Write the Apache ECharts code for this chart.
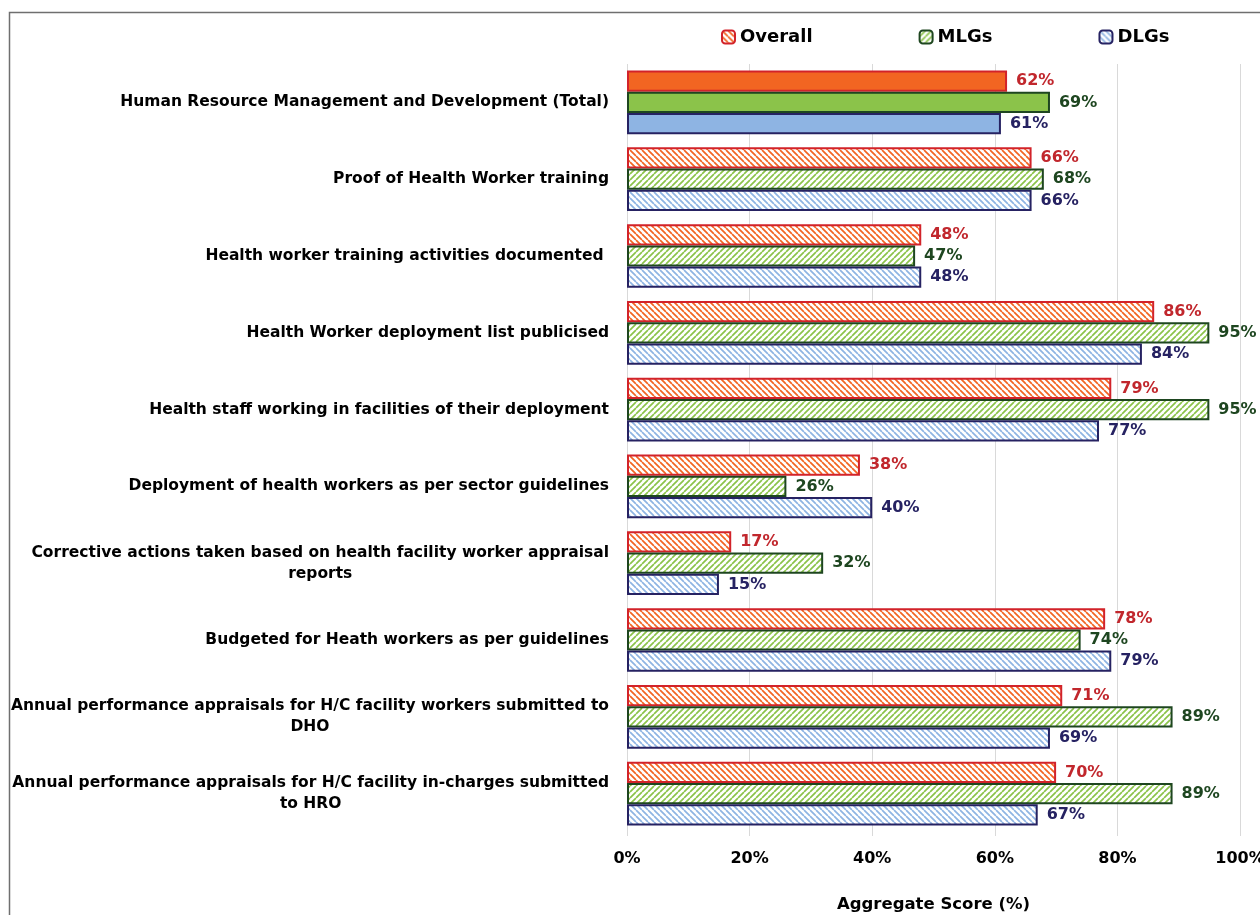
<!DOCTYPE html>
<html>
<head>
<meta charset="utf-8">
<script src="https://cdn.jsdelivr.net/npm/echarts@6/dist/echarts.min.js"></script>
<style>
html,body{margin:0;padding:0;background:#fff;overflow:hidden;}
#main{width:1260px;height:915px;}
</style>
</head>
<body>
<div id="main"></div>
<script>
const categories = [
  "Human Resource Management and Development (Total)",
  "Proof of Health Worker training",
  "Health worker training activities documented ",
  "Health Worker deployment list publicised",
  "Health staff working in facilities of their deployment",
  "Deployment of health workers as per sector guidelines",
  "Corrective actions taken based on health facility worker appraisal\nreports",
  "Budgeted for Heath workers as per guidelines",
  "Annual performance appraisals for H/C facility workers submitted to\nDHO",
  "Annual performance appraisals for H/C facility in-charges submitted\nto HRO"
];
const overall = [62, 66, 48, 86, 79, 38, 17, 78, 71, 70];
const mlgs    = [69, 68, 47, 95, 95, 26, 32, 74, 89, 89];
const dlgs    = [61, 66, 48, 84, 77, 40, 15, 79, 69, 67];
const xTicks = [0, 20, 40, 60, 80, 100];

function stripes(color, dir) {
  const s = 6;
  const c = document.createElement('canvas');
  c.width = s; c.height = s;
  const g = c.getContext('2d');
  g.fillStyle = '#ffffff';
  g.fillRect(0, 0, s, s);
  g.strokeStyle = color;
  g.lineWidth = 1.7;
  g.beginPath();
  for (let k = -1; k <= 1; k++) {
    if (dir === 'back') {
      g.moveTo(k * s, 0); g.lineTo(k * s + s, s);
    } else {
      g.moveTo(k * s, s); g.lineTo(k * s + s, 0);
    }
  }
  g.stroke();
  return { image: c, repeat: 'repeat' };
}

const FONT = 'DejaVu Sans';
const cfg = [
  { name: 'Overall', data: overall, fill: '#F26522', stroke: '#D2232A', label: '#C1272D', dir: 'back' },
  { name: 'MLGs', data: mlgs, fill: '#8BC34A', stroke: '#1E4620', label: '#1E4620', dir: 'fwd' },
  { name: 'DLGs', data: dlgs, fill: '#8EB4E3', stroke: '#262262', label: '#262262', dir: 'back' }
];

const series = cfg.map(c => ({
  name: c.name,
  type: 'bar',
  barGap: '0%',
  barCategoryGap: '17%',
  itemStyle: { color: stripes(c.fill, c.dir), borderColor: c.stroke, borderWidth: 2 },
  label: {
    show: true, position: 'right', distance: 9,
    formatter: '{c}%', color: c.label, fontFamily: FONT, fontWeight: 'bold', fontSize: 16
  },
  data: c.data.map((v, i) => i === 0 ? { value: v, itemStyle: { color: c.fill } } : v)
}));

const chart = echarts.init(document.getElementById('main'));
chart.setOption({
  animation: false,
  backgroundColor: '#ffffff',
  textStyle: { fontFamily: FONT },
  graphic: [{
    type: 'rect', silent: true, z: 100,
    shape: { x: 9.5, y: 12.5, width: 1400, height: 1000 },
    style: { fill: null, stroke: '#6F6F6F', lineWidth: 1.5 }
  }],
  legend: {
    top: 23, left: 716,
    itemWidth: 13, itemHeight: 13, itemGap: 106,
    textStyle: { fontFamily: FONT, fontWeight: 'bold', fontSize: 18, color: '#000' },
    data: cfg.map(c => c.name)
  },
  grid: { left: 627, width: 613, top: 64, height: 768, containLabel: false, outerBoundsMode: 'none' },
  xAxis: {
    type: 'value', min: 0, max: 100, interval: 20,
    name: 'Aggregate Score (%)', nameLocation: 'middle', nameGap: 64,
    nameTextStyle: { fontFamily: FONT, fontWeight: 'bold', fontSize: 16.5, color: '#000' },
    axisLine: { show: false },
    axisTick: { show: true, length: 4, lineStyle: { color: '#D9D9D9' } },
    axisLabel: { formatter: v => xTicks.includes(v) ? v + '%' : '', fontFamily: FONT, fontWeight: 'bold', fontSize: 16, color: '#000', margin: 19 },
    splitLine: { show: true, lineStyle: { color: '#D9D9D9', width: 1 } }
  },
  yAxis: {
    type: 'category', inverse: true, data: categories,
    axisLine: { show: false }, axisTick: { show: false },
    axisLabel: {
      margin: 18, color: '#000',
      formatter: v => '{a|' + v + '}',
      rich: { a: { align: 'center', fontFamily: FONT, fontWeight: 'bold', fontSize: 15.5, lineHeight: 21, color: '#000' } }
    }
  },
  series: series
});
</script>
</body>
</html>
